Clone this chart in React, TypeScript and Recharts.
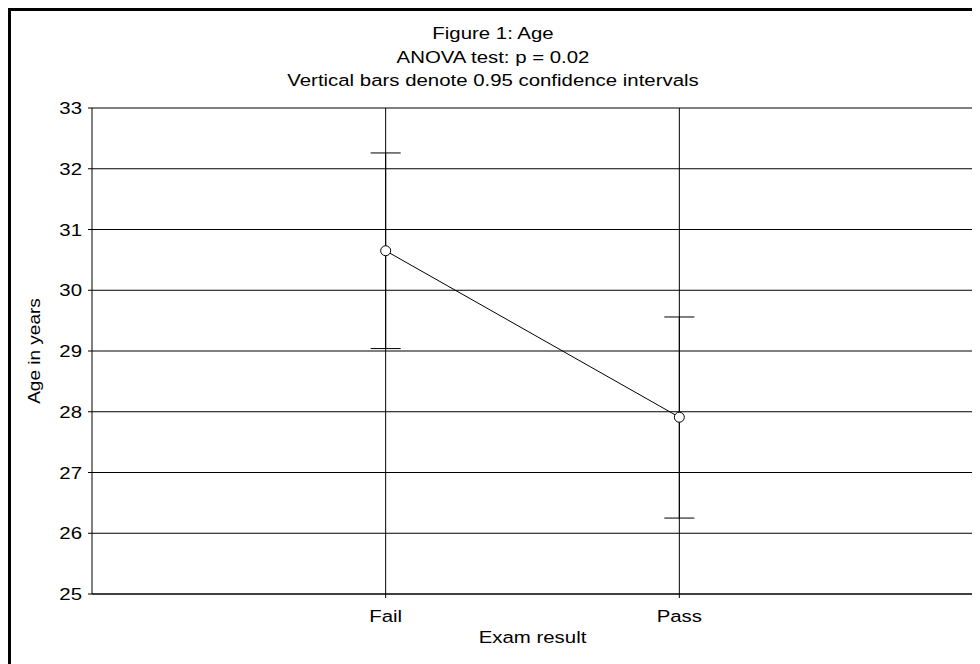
import React from "react";
import {
  CartesianGrid,
  ErrorBar,
  Line,
  LineChart,
  ReferenceLine,
  XAxis,
  YAxis,
} from "recharts";

// Exam result groups and their mean age with 0.95 CI
const groups = ["Fail", "Pass"];
const groupPos = [1, 2];
const meanAge = [30.65, 27.91];
const ciLow = [29.04, 26.25];
const ciHigh = [32.26, 29.56];
const yTicks = [25, 26, 27, 28, 29, 30, 31, 32, 33];
const titleLines = [
  "Figure 1: Age",
  "ANOVA test: p = 0.02",
  "Vertical bars denote 0.95 confidence intervals",
];

const data = groups.map((g, i) => ({
  x: groupPos[i],
  name: g,
  mean: meanAge[i],
  err: [meanAge[i] - ciLow[i], ciHigh[i] - meanAge[i]],
}));

const FONT = "'Liberation Sans', Arial, sans-serif";
const W = 972;
const H = 656;

function YTick(props: any) {
  const { x, y, payload } = props;
  return (
    <g transform={`translate(${x},${y}) scale(1.2,1)`}>
      <text x={0} y={0} dy={6} textAnchor="end" fontSize={17} fontFamily={FONT} fill="#000">
        {payload.value}
      </text>
    </g>
  );
}

function XTick(props: any) {
  const { x, y, payload } = props;
  const label = groups[groupPos.indexOf(payload.value)] ?? "";
  return (
    <g transform={`translate(${x},${y}) scale(1.2,1)`}>
      <text x={0} y={0} dy={16} textAnchor="middle" fontSize={17} fontFamily={FONT} fill="#000">
        {label}
      </text>
    </g>
  );
}

export default function App() {
  return (
    <div style={{ position: "relative", width: W, height: H, background: "#fff" }}>
      <LineChart
        width={W}
        height={H}
        data={data}
        margin={{ top: 100, right: 7, left: 24, bottom: 40 }}
      >
        <CartesianGrid stroke="#000" strokeWidth={1} horizontalValues={yTicks} verticalValues={groupPos} />
        <XAxis
          dataKey="x"
          type="number"
          domain={[0, 3]}
          ticks={groupPos}
          height={30}
          stroke="#000"
          tickSize={4}
          tickMargin={8}
          tick={<XTick />}
        />
        <YAxis
          type="number"
          domain={[25, 33]}
          ticks={yTicks}
          width={60}
          stroke="#000"
          tickSize={4}
          tickMargin={6}
          tick={<YTick />}
          allowDataOverflow
        />
        <ReferenceLine x={3} stroke="#000" ifOverflow="extendDomain" />
        <Line
          dataKey="mean"
          stroke="#000"
          strokeWidth={1}
          isAnimationActive={false}
          dot={{ r: 5, fill: "#fff", stroke: "#000", strokeWidth: 1 }}
          activeDot={false}
        >
          <ErrorBar dataKey="err" width={15} stroke="#000" strokeWidth={1} direction="y" isAnimationActive={false} />
        </Line>
      </LineChart>
      <svg
        width={W}
        height={H}
        style={{ position: "absolute", left: 0, top: 0, pointerEvents: "none" }}
      >
        {titleLines.map((t, i) => (
          <g key={t} transform={`translate(485,${31 + i * 23.5}) scale(1.2,1)`}>
            <text textAnchor="middle" fontSize={17} fontFamily={FONT} fill="#000">
              {t}
            </text>
          </g>
        ))}
        <g transform="translate(524.5,635) scale(1.2,1)">
          <text textAnchor="middle" fontSize={17} fontFamily={FONT} fill="#000">
            Exam result
          </text>
        </g>
        <g transform="translate(32,343) rotate(-90) scale(1.12,1)">
          <text textAnchor="middle" fontSize={17} fontFamily={FONT} fill="#000">
            Age in years
          </text>
        </g>
      </svg>
      <div
        style={{
          position: "absolute",
          left: 0,
          top: 0,
          width: W,
          height: H,
          borderLeft: "3px solid #000",
          borderTop: "3px solid #000",
          boxSizing: "border-box",
          pointerEvents: "none",
        }}
      />
    </div>
  );
}
